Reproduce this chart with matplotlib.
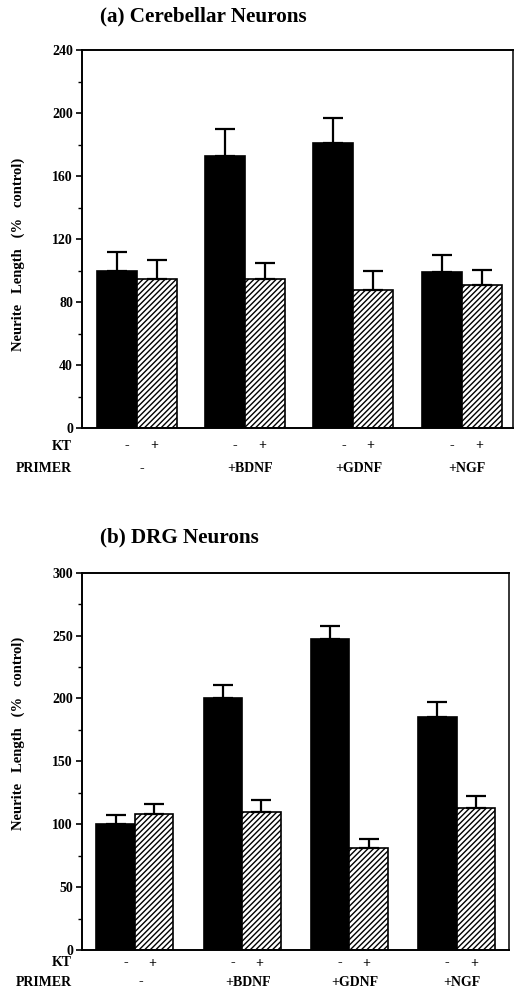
import matplotlib
matplotlib.use("Agg")
import matplotlib.pyplot as plt
import matplotlib.transforms as mtransforms
from matplotlib.ticker import MultipleLocator
import numpy as np

plt.rcParams['font.family'] = ['Liberation Serif', 'DejaVu Serif']
plt.rcParams['font.weight'] = 'bold'
plt.rcParams['hatch.linewidth'] = 1.0

groups = ['-', '+BDNF', '+GDNF', '+NGF']
kt_signs = ['-', '+']

# (a) Cerebellar neurons
a_black = [100, 173, 181, 99]
a_black_err = [12, 17, 16, 11]
a_hatch = [95, 95, 88, 91]
a_hatch_err = [12, 10, 11.5, 9.5]

# (b) DRG neurons
b_black = [100, 200, 247, 185]
b_black_err = [7.5, 10.5, 11, 12.5]
b_hatch = [108, 110, 81, 113]
b_hatch_err = [8, 9.5, 7, 9.5]

W, H = 515, 1001
fig = plt.figure(figsize=(W / 100, H / 100), dpi=100)


def px_axes(l, t, r, b):
    return fig.add_axes([l / W, 1 - b / H, (r - l) / W, (b - t) / H])


def draw(ax, black, berr, hatch, herr, ymax, major, minor, xlim, width,
         kt_y, pr_y, title, title_y, ylab_y):
    x = np.arange(len(groups))
    bx = x - width / 2
    hx = x + width / 2
    ax.bar(bx, black, width=width, color='black', edgecolor='black',
           linewidth=1.2, zorder=2)
    ax.bar(hx, hatch, width=width, color='white', edgecolor='black',
           hatch='//////', linewidth=1.2, zorder=2)
    ax.errorbar(bx, black, yerr=[np.zeros(len(berr)), berr], fmt='none',
                ecolor='black', elinewidth=1.6, capsize=7, capthick=1.6,
                zorder=3)
    ax.errorbar(hx, hatch, yerr=[np.zeros(len(herr)), herr], fmt='none',
                ecolor='black', elinewidth=1.6, capsize=7, capthick=1.6,
                zorder=3)
    ax.set_xlim(*xlim)
    ax.set_ylim(0, ymax)
    ax.yaxis.set_major_locator(MultipleLocator(major))
    ax.yaxis.set_minor_locator(MultipleLocator(minor))
    ax.set_xticks([])
    ax.tick_params(axis='y', which='major', direction='out', length=4.5,
                   width=1.2, pad=2, labelsize=10)
    ax.tick_params(axis='y', which='minor', direction='out', length=3,
                   width=1.0)
    for lab in ax.get_yticklabels():
        lab.set_fontweight('bold')
    for s in ['left', 'bottom', 'top']:
        ax.spines[s].set_linewidth(1.4)
    ax.spines['right'].set_linewidth(1.1)

    tr = mtransforms.blended_transform_factory(ax.transData, fig.transFigure)
    for i in x:
        ax.text(i - 0.09, 1 - kt_y / H, kt_signs[0], transform=tr,
                ha='center', va='center', fontsize=10, fontweight='bold',
                clip_on=False)
        ax.text(i + 0.16, 1 - kt_y / H, kt_signs[1], transform=tr,
                ha='center', va='center', fontsize=10, fontweight='bold',
                clip_on=False)
        ax.text(i + 0.05, 1 - pr_y / H, groups[i], transform=tr,
                ha='center', va='center', fontsize=10, fontweight='bold',
                clip_on=False)
    fig.text(72 / W, 1 - kt_y / H, 'KT', ha='right', va='center',
             fontsize=10, fontweight='bold')
    fig.text(72 / W, 1 - pr_y / H, 'PRIMER', ha='right', va='center',
             fontsize=10, fontweight='bold')
    fig.text(100 / W, 1 - title_y / H, title, ha='left', va='center',
             fontsize=15.2, fontweight='bold')
    fig.text(18 / W, 1 - ylab_y / H, 'Neurite   Length   (%   control)',
             rotation=90, ha='center', va='center', fontsize=10.5,
             fontweight='bold')


ax1 = px_axes(82, 50.5, 513, 428)
draw(ax1, a_black, a_black_err, a_hatch, a_hatch_err, 240, 40, 20,
     (-0.505, 3.474), 0.369, 446, 469, '(a) Cerebellar Neurons', 16, 254)

ax2 = px_axes(82, 572.7, 509, 950)
draw(ax2, b_black, b_black_err, b_hatch, b_hatch_err, 300, 50, 25,
     (-0.494, 3.488), 0.359, 963, 982, '(b) DRG Neurons', 537, 733)

fig.savefig('out.png', dpi=100)
